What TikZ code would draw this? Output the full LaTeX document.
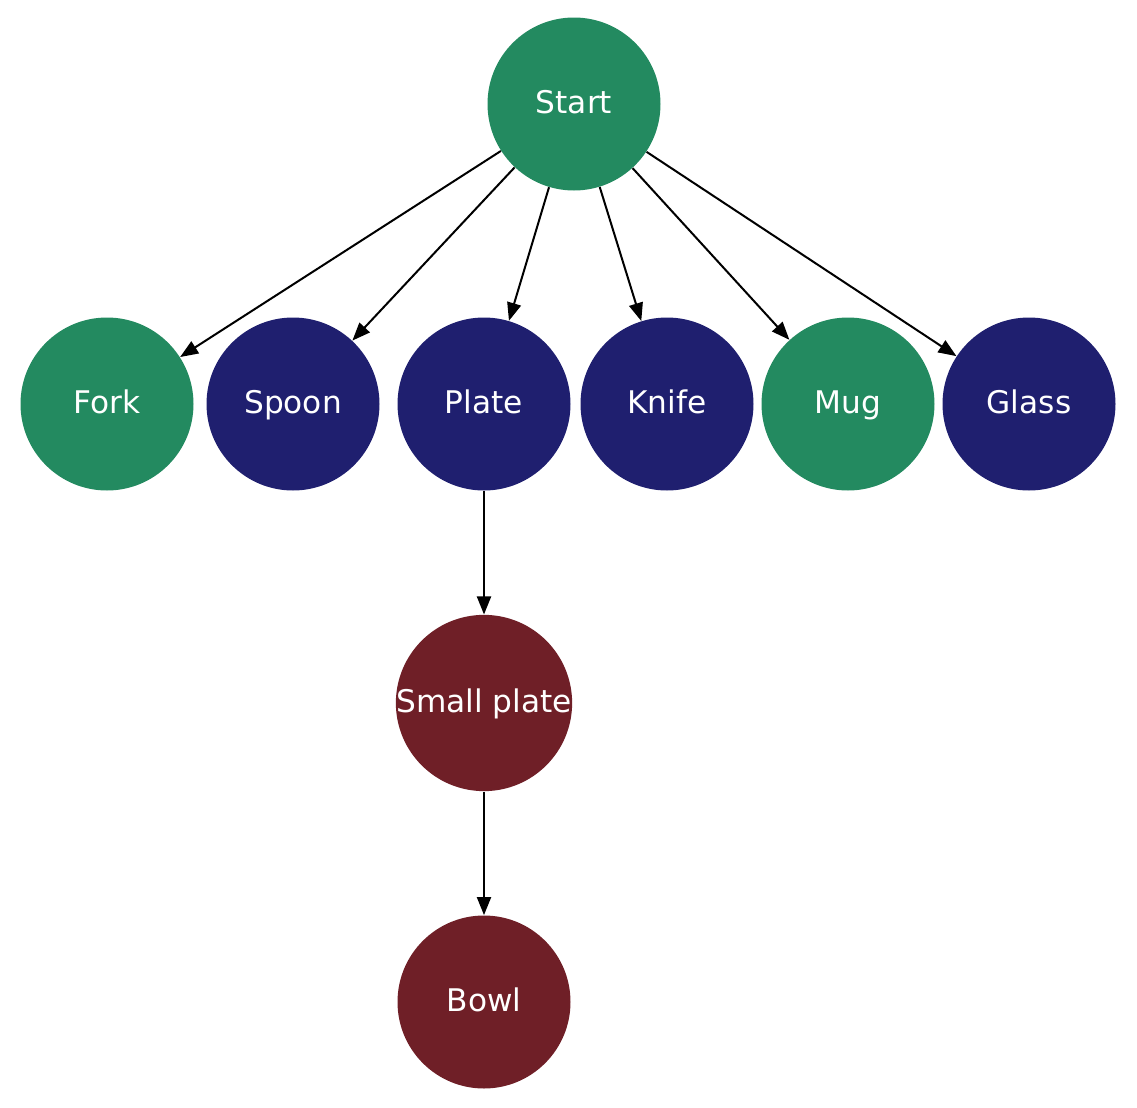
\documentclass[tikz,border=0pt]{standalone}
\usepackage{fontspec}
\setmainfont{DejaVu Sans}
\usetikzlibrary{arrows.meta}
\definecolor{cgreen}{HTML}{238A60}
\definecolor{cnavy}{HTML}{1F1F6F}
\definecolor{cmaroon}{HTML}{6F1F27}
\begin{document}
\begin{tikzpicture}[x=0.5pt,y=-0.5pt,
  circ/.style={circle,inner sep=0pt,minimum size=86.5pt,text=white,
    font=\fontsize{15.6}{18}\selectfont,text height=0.97em,text depth=0.03em},
  gn/.style={circ,fill=cgreen},
  bn/.style={circ,fill=cnavy},
  rn/.style={circ,fill=cmaroon},
  edge/.style={line width=1pt,-{Triangle[length=9pt,width=7pt]}}]
\useasboundingbox (0,0) rectangle (1137,1108);
\node[gn] (start) at (574,104) {Start};
\node[gn] (fork) at (107,404) {Fork};
\node[bn] (spoon) at (293,404) {Spoon};
\node[bn] (plate) at (484,404) {Plate};
\node[bn] (knife) at (667,404) {Knife};
\node[gn] (mug) at (848,404) {Mug};
\node[bn] (glass) at (1029,404) {Glass};
\node[rn] (small) at (484,703) {Small plate};
\node[rn] (bowl) at (484,1002) {Bowl};
\foreach \t in {fork,spoon,plate,knife,mug,glass} \draw[edge] (start) -- (\t);
\draw[edge] (plate) -- (small);
\draw[edge] (small) -- (bowl);
\end{tikzpicture}
\end{document}
